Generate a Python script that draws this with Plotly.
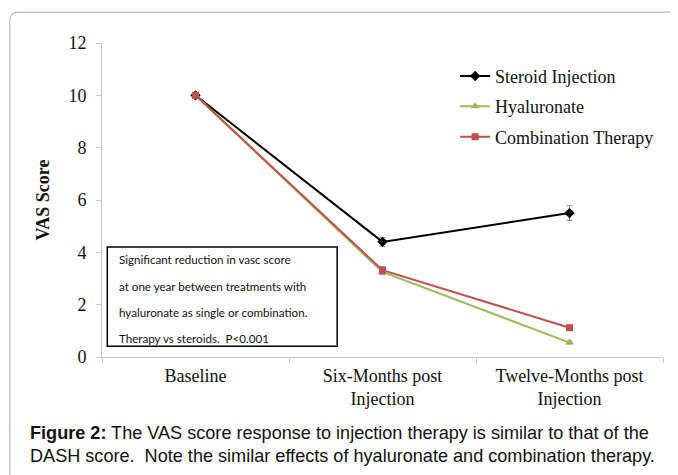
import plotly.graph_objects as go

categories = ["Baseline", "Six-Months post<br>Injection", "Twelve-Months post<br>Injection"]
steroid = [10.0, 4.4, 5.5]
steroid_err = [0.0, 0.17, 0.28]
hyaluronate = [10.0, 3.25, 0.55]
hyaluronate_err = [0.0, 0.1, 0.05]
combination = [10.0, 3.32, 1.12]
combination_err = [0.0, 0.13, 0.07]
y_ticks = [0, 2, 4, 6, 8, 10, 12]
note_lines = [
    "Significant reduction in vasc score",
    "at one year between treatments with",
    "hyaluronate as single or combination.",
    "Therapy vs steroids.  P<0.001",
]
caption_lines = [
    "<b>Figure 2:</b> The VAS score response to injection therapy is similar to that of the",
    "DASH score.  Note the similar effects of hyaluronate and combination therapy.",
]

OFF = 8  # default page body margin
W, H = 670, 467
# plot area in page pixels
PL, PR, PT, PB = 101.7, 663.0, 43.3, 356.7
L, T = PL - OFF, PT - OFF
R, B = W - (PR - OFF), H - (PB - OFF)
pw, ph = PR - PL, PB - PT

def px(x):
    return (x - PL) / pw

def py(y):
    return (PB - y) / ph

serif = "Liberation Serif, Times New Roman, serif"
fig = go.Figure()

def add(name, y, err, color, symbol, size, group):
    fig.add_trace(go.Scatter(
        x=categories, y=y, name=name, mode="lines+markers",
        line=dict(color=color, width=2),
        marker=dict(symbol=symbol, size=size, color=color),
        error_y=dict(type="data", array=err, visible=True, color="#8c8c8c", thickness=1, width=3),
        legendgroup=group,
    ))

add("Steroid Injection", steroid, steroid_err, "#000000", "diamond", 8, "a")
add("Hyaluronate", hyaluronate, hyaluronate_err, "#9bbb59", "triangle-up", 8, "b")
add("Combination Therapy", combination, combination_err, "#c0504d", "square", 7, "c")

annotations = []
ys = [259, 286, 312, 338]
for t, yy in zip(note_lines, ys):
    annotations.append(dict(xref="paper", yref="paper", x=px(117), y=py(yy), text=t,
                            showarrow=False, xanchor="left", yanchor="middle",
                            font=dict(family="Lato, sans-serif", size=11.6, color="#111")))
for t, yy in zip(caption_lines, [433, 456]):
    annotations.append(dict(xref="paper", yref="paper", x=px(28), y=py(yy), text=t,
                            showarrow=False, xanchor="left", yanchor="middle",
                            font=dict(family="Liberation Sans, Arial, sans-serif", size=18.1, color="#111")))

# frame (rounded top-left corner)
x0, x1 = px(9.5), px(720)
yt, yb = py(12.5), py(520)
rx, ry = 8 / pw, 8 / ph
frame_path = (f"M {x0},{yb} L {x0},{yt - ry} Q {x0},{yt} {x0 + rx},{yt} L {x1},{yt}")

shapes = [
    dict(type="path", xref="paper", yref="paper", path=frame_path,
         line=dict(color="#a8a8a8", width=1)),
    dict(type="rect", xref="paper", yref="paper", x0=px(107), x1=px(337), y0=py(346), y1=py(247),
         line=dict(color="#000000", width=1.5), fillcolor="rgba(0,0,0,0)"),
]

fig.update_layout(
    width=W, height=H,
    margin=dict(l=L, r=R, t=T, b=B),
    paper_bgcolor="white", plot_bgcolor="white",
    font=dict(family=serif, size=18, color="#111"),
    showlegend=True,
    legend=dict(x=px(455), y=py(58), xanchor="left", yanchor="top",
                bgcolor="rgba(0,0,0,0)", font=dict(family=serif, size=18),
                traceorder="grouped", tracegroupgap=4, itemwidth=30),
    xaxis=dict(type="category", range=[-0.5, 2.5], tickson="boundaries", ticks="outside",
               ticklen=5, tickcolor="#c8c8c8", showline=True, linecolor="#c8c8c8", linewidth=1,
               showgrid=False, zeroline=False, ticklabelstandoff=2,
               tickfont=dict(family=serif, size=18)),
    yaxis=dict(range=[0, 12], tickvals=y_ticks, ticks="outside", ticklen=5, tickcolor="#c8c8c8",
               showline=True, linecolor="#c8c8c8", linewidth=1, showgrid=False, zeroline=False,
               ticklabelstandoff=6,
               tickfont=dict(family=serif, size=18),
               title=dict(text="<b>VAS Score</b>", font=dict(family=serif, size=18), standoff=14)),
    annotations=annotations,
    shapes=shapes,
)

fig.write_html("out.html")
